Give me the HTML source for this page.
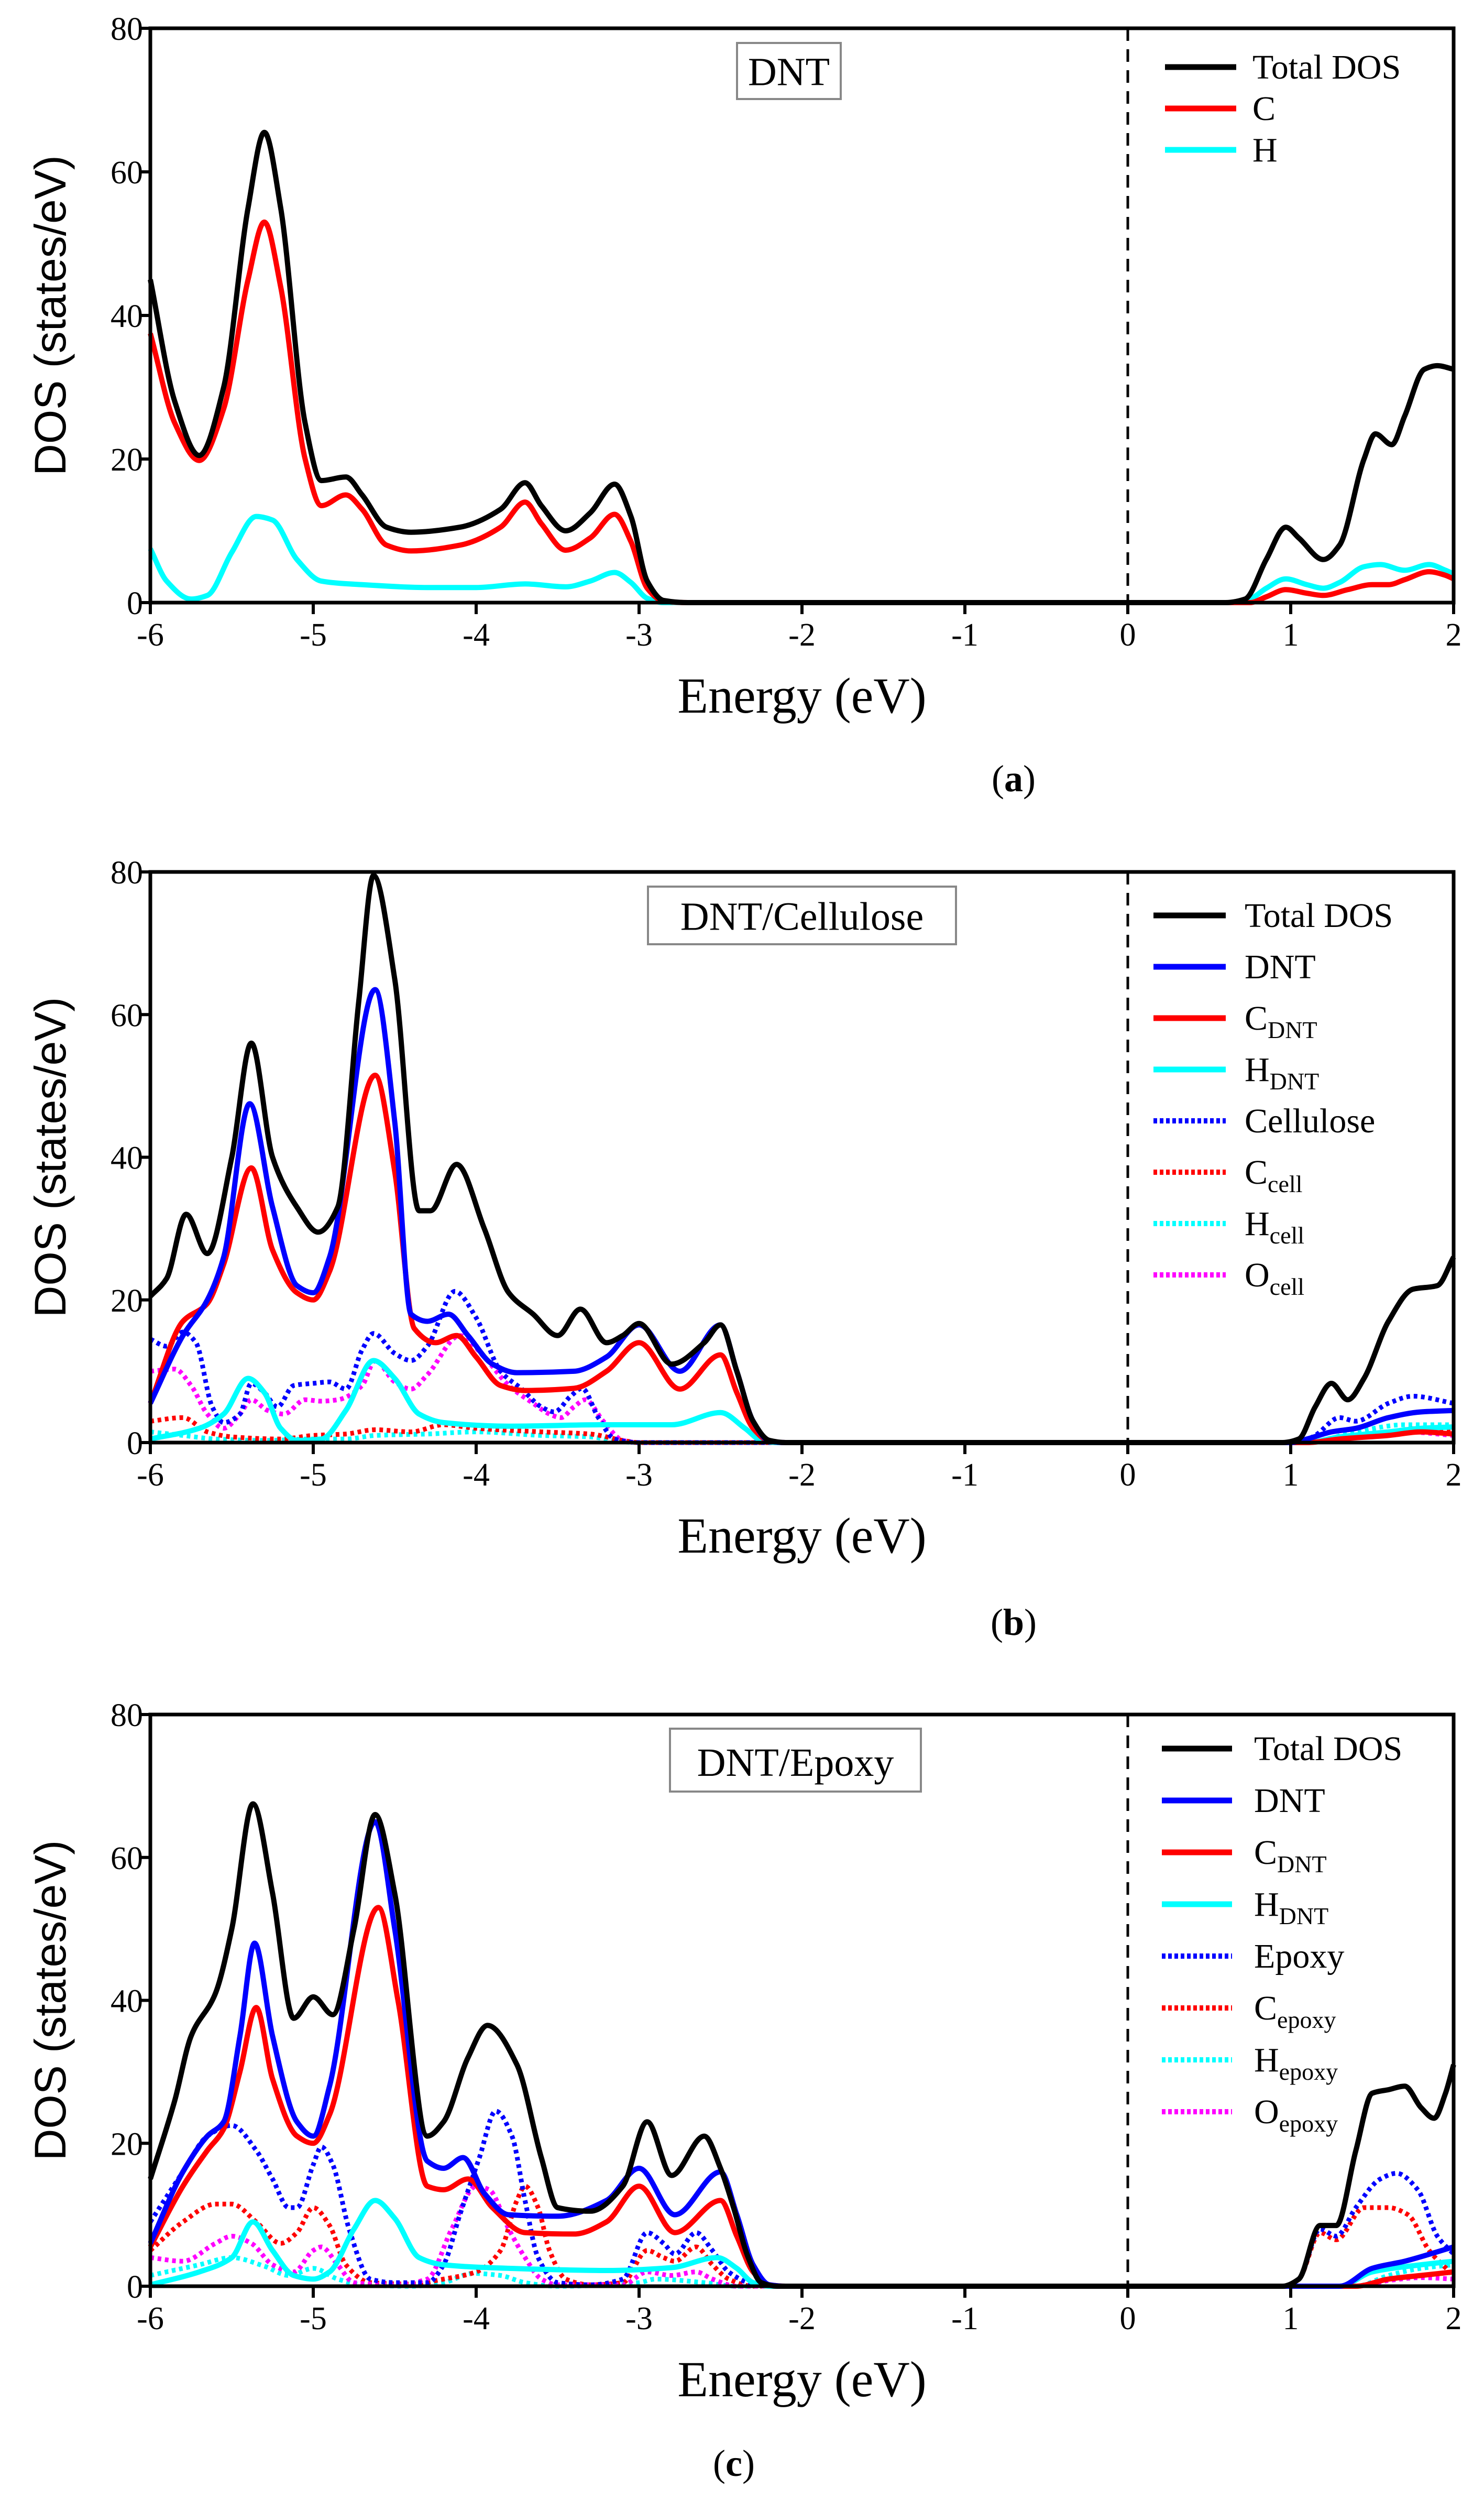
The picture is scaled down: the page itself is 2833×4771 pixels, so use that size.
<!DOCTYPE html>
<html><head><meta charset="utf-8"><title>DOS panels</title>
<style>
html,body{margin:0;padding:0;background:#fff;}
svg{display:block;}
text{font-family:"Liberation Serif",serif;fill:#000;}
</style></head>
<body>
<svg id="fig" width="2833" height="4771" viewBox="0 0 2833 4771" xmlns="http://www.w3.org/2000/svg"></svg>
<script>
// ---------- data ----------
const xTicks = [-6,-5,-4,-3,-2,-1,0,1,2];
const yTicks = [0,20,40,60,80];
// Panel a
const aTotal = [[-6,45],[-5.85,28],[-5.7,20.5],[-5.55,30],[-5.4,55],[-5.3,65.5],[-5.2,55],[-5.05,25],[-4.95,17],[-4.8,17.5],[-4.7,15],[-4.55,10.5],[-4.4,9.8],[-4.1,10.5],[-3.85,13],[-3.7,16.7],[-3.6,13.5],[-3.45,10],[-3.3,12.5],[-3.15,16.5],[-3.05,12],[-2.95,3],[-2.85,0.3],[-2.7,0],[0.6,0],[0.72,0.5],[0.85,6],[0.97,10.5],[1.05,9],[1.2,6],[1.3,8],[1.45,20],[1.52,23.5],[1.62,22],[1.7,26],[1.82,32.5],[1.9,33],[2,32.5]];
const aC = [[-6,37.5],[-5.85,25],[-5.7,19.8],[-5.55,27],[-5.4,45],[-5.3,53],[-5.2,44],[-5.05,20],[-4.95,13.5],[-4.8,15],[-4.7,13],[-4.55,8],[-4.4,7.2],[-4.1,8],[-3.85,10.5],[-3.7,14],[-3.6,11],[-3.45,7.3],[-3.3,9],[-3.15,12.3],[-3.05,8.5],[-2.95,2],[-2.85,0.2],[-2.7,0],[0.75,0],[0.85,0.8],[0.97,1.8],[1.1,1.3],[1.2,1],[1.35,1.8],[1.5,2.5],[1.6,2.5],[1.7,3.2],[1.85,4.3],[1.95,3.8],[2,3.3]];
const aH = [[-6,7.5],[-5.9,3],[-5.75,0.5],[-5.65,1],[-5.5,7],[-5.35,12],[-5.25,11.5],[-5.1,6],[-4.95,3],[-4.7,2.5],[-4.3,2.1],[-4,2.1],[-3.7,2.6],[-3.45,2.2],[-3.3,3],[-3.15,4.2],[-3.05,2.8],[-2.95,0.6],[-2.85,0],[0.65,0],[0.75,0.5],[0.85,2],[0.97,3.3],[1.1,2.5],[1.2,2],[1.3,2.8],[1.45,5],[1.55,5.3],[1.7,4.5],[1.85,5.3],[1.95,4.5],[2,4]];
// Panel b
const bTotal = [[-6,20.5],[-5.9,23],[-5.78,32],[-5.65,26.5],[-5.5,40],[-5.38,56],[-5.25,40],[-5.1,33],[-4.97,29.5],[-4.85,33],[-4.72,62],[-4.63,79.5],[-4.5,65],[-4.35,32.5],[-4.28,32.5],[-4.12,39],[-3.95,30],[-3.8,21],[-3.65,18],[-3.5,15],[-3.36,18.7],[-3.2,14],[-3.1,15],[-3,16.7],[-2.8,11],[-2.6,14],[-2.5,16.5],[-2.4,10],[-2.3,3],[-2.2,0.3],[-2.1,0],[0.95,0],[1.05,0.5],[1.15,5],[1.25,8.3],[1.35,6],[1.45,9],[1.6,17],[1.75,21.5],[1.9,22],[2,26]];
const bDNT = [[-6,5.5],[-5.8,15],[-5.65,20],[-5.55,26],[-5.39,47.5],[-5.25,33],[-5.1,22],[-5.0,21],[-4.9,26],[-4.62,63.5],[-4.5,45],[-4.4,18],[-4.3,17],[-4.17,18],[-4.05,15],[-3.9,11],[-3.75,9.8],[-3.4,10],[-3.2,12],[-3,16.5],[-2.75,10],[-2.5,16.5],[-2.4,10],[-2.3,3],[-2.2,0.2],[-2.1,0],[1,0],[1.1,0.5],[1.25,1.5],[1.4,2],[1.6,3.5],[1.8,4.3],[2,4.5]];
const bCDNT = [[-6,5.5],[-5.8,17],[-5.65,19.5],[-5.55,25],[-5.38,38.5],[-5.25,27],[-5.1,21],[-5.0,20],[-4.9,24],[-4.62,51.5],[-4.5,38],[-4.38,16],[-4.25,14],[-4.12,15],[-4.0,12],[-3.85,8],[-3.7,7.3],[-3.4,7.6],[-3.2,10],[-3,14],[-2.75,7.5],[-2.5,12.3],[-2.4,7],[-2.3,2],[-2.2,0.2],[-2.1,0],[1.1,0],[1.3,0.5],[1.6,1],[1.8,1.5],[2,1.2]];
const bHDNT = [[-6,0.5],[-5.7,2],[-5.55,4],[-5.4,9],[-5.3,7],[-5.2,2],[-5.1,0.3],[-4.95,0.5],[-4.8,4.5],[-4.63,11.5],[-4.5,9],[-4.35,4],[-4.2,2.8],[-3.8,2.3],[-3.2,2.5],[-2.8,2.5],[-2.5,4.2],[-2.35,2],[-2.25,0.3],[-2.15,0],[1.1,0],[1.3,0.8],[1.6,1.5],[1.8,2],[2,2.2]];
const bCell = [[-6,14.5],[-5.9,13.5],[-5.8,15.5],[-5.72,14],[-5.62,5],[-5.55,2.8],[-5.45,4],[-5.38,8.3],[-5.3,7],[-5.22,5],[-5.12,8],[-5.0,8.3],[-4.9,8.5],[-4.8,7.5],[-4.7,13],[-4.63,15.3],[-4.5,12.5],[-4.4,11.5],[-4.3,13.5],[-4.13,21.2],[-4.0,17.5],[-3.85,10],[-3.72,7.5],[-3.6,5],[-3.52,4.3],[-3.42,6.5],[-3.35,7.6],[-3.25,3.5],[-3.15,0.5],[-3.0,0],[1.05,0],[1.15,1],[1.3,3.5],[1.4,3],[1.6,5.5],[1.75,6.5],[2,5.5]];
const bCcell = [[-6,3],[-5.8,3.5],[-5.65,1.5],[-5.5,0.8],[-5.2,0.5],[-5,1],[-4.8,1.2],[-4.62,1.8],[-4.4,1.5],[-4.2,2.5],[-4,2],[-3.6,1.5],[-3.3,1.2],[-3.1,0.3],[-3.0,0],[1.1,0],[1.3,0.8],[1.6,1.5],[1.8,2],[2,1.8]];
const bHcell = [[-6,1.5],[-5.8,1],[-5.6,0.5],[-5.3,0.3],[-5,0.5],[-4.8,0.5],[-4.62,1],[-4.3,1.2],[-4,1.5],[-3.6,1],[-3.3,0.8],[-3.1,0.1],[-3.0,0],[1.1,0],[1.4,1.5],[1.7,2.5],[2,2.5]];
const bOcell = [[-6,10],[-5.85,10.3],[-5.75,8],[-5.65,4],[-5.55,2],[-5.45,4],[-5.38,6],[-5.28,4.5],[-5.18,4],[-5.05,6],[-4.95,5.8],[-4.85,6],[-4.7,8],[-4.62,11.5],[-4.5,8.5],[-4.4,7.5],[-4.3,9.5],[-4.1,15],[-3.95,12],[-3.8,8],[-3.65,5.5],[-3.55,4],[-3.48,3.5],[-3.4,5],[-3.33,6],[-3.22,3],[-3.1,0.3],[-3.0,0],[1.1,0],[1.3,0.5],[1.7,1.5],[2,1]];
// Panel c
const cTotal = [[-6,15],[-5.85,26],[-5.75,35],[-5.6,41],[-5.5,50],[-5.37,67.5],[-5.25,55],[-5.12,37.5],[-5.0,40.5],[-4.88,38],[-4.75,50],[-4.62,66],[-4.5,55],[-4.3,21],[-4.2,23],[-4.05,32],[-3.93,36.5],[-3.75,31],[-3.6,18],[-3.5,11],[-3.3,10.5],[-3.1,14],[-2.95,23],[-2.8,15.5],[-2.6,21],[-2.5,16.5],[-2.42,11],[-2.33,4],[-2.25,0.5],[-2.15,0],[0.95,0],[1.05,1],[1.18,8.5],[1.28,8.5],[1.4,19],[1.5,27],[1.6,27.5],[1.7,28],[1.8,25],[1.88,23.5],[1.95,27],[2,31]];
const cDNT = [[-6,6],[-5.8,16],[-5.65,21],[-5.55,23],[-5.45,35],[-5.36,48],[-5.25,35],[-5.1,23],[-5.0,21],[-4.9,28],[-4.62,65],[-4.5,50],[-4.3,17.5],[-4.2,16.5],[-4.08,18],[-3.95,13],[-3.8,10],[-3.5,9.8],[-3.2,12],[-3,16.5],[-2.78,10],[-2.5,16],[-2.4,10],[-2.3,3],[-2.2,0.2],[-2.1,0],[1.3,0],[1.5,2.5],[1.7,3.5],[2,5.5]];
const cCDNT = [[-6,5.5],[-5.8,14],[-5.65,19],[-5.55,22],[-5.45,30],[-5.35,39],[-5.25,29],[-5.1,21],[-5.0,20],[-4.9,24],[-4.6,53],[-4.48,40],[-4.3,14],[-4.2,13.5],[-4.05,15],[-3.9,11],[-3.7,7.5],[-3.4,7.3],[-3.2,9],[-3,14],[-2.78,7.5],[-2.5,12],[-2.4,7],[-2.3,2],[-2.2,0.2],[-2.1,0],[1.4,0],[1.6,1],[1.8,1.5],[2,2]];
const cHDNT = [[-6,0.2],[-5.7,2],[-5.5,4],[-5.37,9],[-5.25,5],[-5.12,1.5],[-5.0,1],[-4.9,2],[-4.75,8],[-4.62,12],[-4.5,9.5],[-4.35,4],[-4.2,3],[-3.8,2.5],[-3.2,2.2],[-2.8,2.6],[-2.52,4],[-2.4,2.5],[-2.3,0.5],[-2.2,0],[1.3,0],[1.5,2],[1.8,3],[2,3.5]];
const cEpoxy = [[-6,9],[-5.8,16],[-5.65,21],[-5.5,22.5],[-5.35,19],[-5.25,15],[-5.15,11],[-5.1,11],[-5.0,17],[-4.95,19.5],[-4.88,17],[-4.78,8],[-4.65,1],[-4.5,0.5],[-4.3,0.5],[-4.2,3],[-4.1,10],[-3.98,18],[-3.88,24.5],[-3.78,21],[-3.7,12],[-3.62,4],[-3.5,0.5],[-3.3,0.2],[-3.1,1],[-2.95,7.5],[-2.85,6],[-2.78,4.5],[-2.65,7.5],[-2.55,5],[-2.45,2],[-2.3,0.3],[-2.2,0],[0.95,0],[1.05,1],[1.18,8],[1.28,7],[1.4,11],[1.55,15],[1.65,15.8],[1.78,13.5],[1.9,7],[2,4.5]];
const cCepoxy = [[-6,5],[-5.8,9],[-5.6,11.5],[-5.5,11.5],[-5.35,9],[-5.2,6],[-5.1,7.5],[-5.0,11],[-4.9,8.5],[-4.8,3],[-4.65,0.5],[-4.4,0.3],[-4.2,1],[-4.0,2],[-3.85,5],[-3.75,12],[-3.7,14],[-3.62,11],[-3.55,5],[-3.45,1],[-3.3,0.2],[-3.1,0.5],[-2.95,5],[-2.85,4],[-2.78,3.5],[-2.65,5.5],[-2.55,3],[-2.45,1],[-2.3,0],[0.95,0],[1.05,1],[1.18,7.5],[1.28,6.5],[1.45,11],[1.6,11],[1.72,10],[1.85,5],[2,1.5]];
const cHepoxy = [[-6,1.5],[-5.7,3],[-5.5,4],[-5.3,2.8],[-5.15,1.5],[-5.0,2.5],[-4.85,1],[-4.7,0.2],[-4.4,0],[-4.2,0.5],[-4.02,1.8],[-3.85,1.5],[-3.7,0.5],[-3.5,0],[-3.0,0.5],[-2.9,1],[-2.6,0.5],[-2.4,0],[1.4,0],[1.6,1.5],[1.8,2.5],[2,3]];
const cOepoxy = [[-6,4],[-5.8,3.5],[-5.6,6],[-5.5,7],[-5.38,6],[-5.25,3],[-5.12,2],[-5.0,5],[-4.95,5.5],[-4.85,3],[-4.75,0.5],[-4.5,0.2],[-4.3,1],[-4.15,8],[-4.0,14],[-3.92,13.5],[-3.8,8],[-3.7,4],[-3.6,1],[-3.5,0.2],[-3.1,0.2],[-2.95,2],[-2.8,1.5],[-2.65,2],[-2.55,1],[-2.4,0],[1.4,0],[1.6,0.8],[1.8,1.2],[2,1]];

// ---------- drawing ----------
const NS = "http://www.w3.org/2000/svg";
const svg = document.getElementById('fig');
function mk(tag, attrs, parent){
  const e = document.createElementNS(NS, tag);
  for (const k in attrs) e.setAttribute(k, attrs[k]);
  (parent||svg).appendChild(e);
  return e;
}
const L = 287, R = 2775;
// monotone cubic (Fritsch-Carlson) in pixel space: no loops / overshoot
function smoothPath(pts, sx, sy){
  const X = pts.map(p=>sx(p[0])), Y = pts.map(p=>sy(p[1]));
  const n = X.length;
  const dx=[], m=[];
  for (let i=0;i<n-1;i++){ dx[i]=X[i+1]-X[i]; m[i]=(Y[i+1]-Y[i])/dx[i]; }
  const t=[];
  t[0]=m[0]; t[n-1]=m[n-2];
  for (let i=1;i<n-1;i++){
    if (m[i-1]*m[i]<=0) t[i]=0;
    else {
      const w1=2*dx[i]+dx[i-1], w2=dx[i]+2*dx[i-1];
      t[i]=(w1+w2)/(w1/m[i-1]+w2/m[i]);
    }
  }
  let d='M'+X[0].toFixed(1)+','+Y[0].toFixed(1);
  for (let i=0;i<n-1;i++){
    const h=dx[i]/3;
    d+=' C'+(X[i]+h).toFixed(1)+','+(Y[i]+t[i]*h).toFixed(1)+' '+(X[i+1]-h).toFixed(1)+','+(Y[i+1]-t[i+1]*h).toFixed(1)+' '+X[i+1].toFixed(1)+','+Y[i+1].toFixed(1);
  }
  return d;
}
const COL = {black:'#000', blue:'#0000ff', red:'#ff0000', cyan:'#00ffff', magenta:'#ff00ff'};

function panel(id, top, bottom, series, label, legend, caption){
  const g = mk('g', {});
  
  
  const sx = v => L + (v+6)/8*(R-L);
  const sy = v => bottom - v/80*(bottom-top);
  series.forEach(s=>{
    const p = mk('path', {d: smoothPath(s.data, sx, sy), fill:'none', stroke:COL[s.color],
      'stroke-width': s.dot?9:10, 'stroke-linejoin':'round',
      'stroke-dasharray': s.dot?'7 7':'none'}, g);
    
    
  });
  const fl = mk('line', {x1:sx(0), x2:sx(0), y1:top, y2:bottom, stroke:'#000', 'stroke-width':5, 'stroke-dasharray':'24 16'}, g);
  
  
  const fr = mk('path', {d:`M${L},${bottom} L${L},${top} L${R},${top} L${R},${bottom} Z`, fill:'none', stroke:'#000', 'stroke-width':7}, g);
  
  
  xTicks.forEach(t=>{
    const tk = mk('line', {x1:sx(t), x2:sx(t), y1:bottom, y2:bottom+22, stroke:'#000', 'stroke-width':6}, g);
    
    
    const tl = mk('text', {x:sx(t), y:bottom+82, 'font-size':62, 'text-anchor':'middle'}, g);
    tl.textContent = String(t);
    
    
  });
  yTicks.forEach(t=>{
    const tk = mk('line', {x1:L-20, x2:L, y1:sy(t), y2:sy(t), stroke:'#000', 'stroke-width':6}, g);
    
    
    const tl = mk('text', {x:L-14, y:sy(t)+22, 'font-size':62, 'text-anchor':'end'}, g);
    tl.textContent = String(t);
    
    
  });
  const xt = mk('text', {x:(L+R)/2, y:bottom+210, 'font-size':96, 'text-anchor':'middle'}, g);
  xt.textContent = 'Energy (eV)';
  
  
  const yc = (top+bottom)/2;
  const yt = mk('text', {x:0, y:0, 'font-size':84, 'text-anchor':'middle', transform:`translate(125,${yc}) rotate(-90)`, style:'font-family:"Liberation Sans",sans-serif'}, g);
  yt.textContent = 'DOS (states/eV)';
  
  
  const lb = mk('rect', {x:label.x, y:top+label.dy, width:label.w, height:label.h, fill:'#fff', stroke:'#888', 'stroke-width':4}, g);
  
  
  const lt = mk('text', {x:label.x+label.w/2, y:top+label.dy+label.h*0.75, 'font-size':76, 'text-anchor':'middle'}, g);
  lt.textContent = label.text;
  
  
  legend.items.forEach((it,i)=>{
    const y = top + legend.y0 + i*legend.dy;
    const ln = mk('line', {x1:legend.x1, x2:legend.x2, y1:y, y2:y, stroke:COL[it.color], 'stroke-width':it.dot?10:11, 'stroke-dasharray':it.dot?'7 5':'none'}, g);
    
    
    const tx = mk('text', {x:legend.tx, y:y+22, 'font-size':66}, g);
    
    
    tx.appendChild(document.createTextNode(it.main));
    if (it.sub){
      const ts = mk('tspan', {'font-size':46, dy:16}, tx);
      ts.textContent = it.sub;
    }
  });
  const cp = mk('text', {x:caption.x, y:caption.y, 'font-size':72, 'text-anchor':'middle'});
  
  
  cp.appendChild(document.createTextNode('('));
  const cb = mk('tspan', {'font-weight':'bold'}, cp); cb.textContent = id;
  cp.appendChild(document.createTextNode(')'));
}

panel('a', 54, 1150, [
  {name:'h', data:aH, color:'cyan'},
  {name:'c', data:aC, color:'red'},
  {name:'total-dos', data:aTotal, color:'black'}
], {x:1407, dy:28, w:198, h:107, text:'DNT'},
{x1:2224, x2:2360, tx:2391, y0:74, dy:79, items:[
  {main:'Total DOS', color:'black'},{main:'C', color:'red'},{main:'H', color:'cyan'}]},
{x:1935, y:1510});

panel('b', 1664, 2753, [
  {name:'h-cell', data:bHcell, color:'cyan', dot:true},
  {name:'c-cell', data:bCcell, color:'red', dot:true},
  {name:'o-cell', data:bOcell, color:'magenta', dot:true},
  {name:'cellulose', data:bCell, color:'blue', dot:true},
  {name:'h-dnt', data:bHDNT, color:'cyan'},
  {name:'c-dnt', data:bCDNT, color:'red'},
  {name:'dnt', data:bDNT, color:'blue'},
  {name:'total-dos', data:bTotal, color:'black'}
], {x:1237, dy:28, w:588, h:110, text:'DNT/Cellulose'},
{x1:2202, x2:2340, tx:2376, y0:83, dy:98, items:[
  {main:'Total DOS', color:'black'},{main:'DNT', color:'blue'},
  {main:'C', sub:'DNT', color:'red'},{main:'H', sub:'DNT', color:'cyan'},
  {main:'Cellulose', color:'blue', dot:true},{main:'C', sub:'cell', color:'red', dot:true},
  {main:'H', sub:'cell', color:'cyan', dot:true},{main:'O', sub:'cell', color:'magenta', dot:true}]},
{x:1935, y:3120});

panel('c', 3272, 4363, [
  {name:'h-epoxy', data:cHepoxy, color:'cyan', dot:true},
  {name:'c-epoxy', data:cCepoxy, color:'red', dot:true},
  {name:'o-epoxy', data:cOepoxy, color:'magenta', dot:true},
  {name:'epoxy', data:cEpoxy, color:'blue', dot:true},
  {name:'h-dnt', data:cHDNT, color:'cyan'},
  {name:'c-dnt', data:cCDNT, color:'red'},
  {name:'dnt', data:cDNT, color:'blue'},
  {name:'total-dos', data:cTotal, color:'black'}
], {x:1279, dy:27, w:479, h:120, text:'DNT/Epoxy'},
{x1:2218, x2:2352, tx:2394, y0:65, dy:99, items:[
  {main:'Total DOS', color:'black'},{main:'DNT', color:'blue'},
  {main:'C', sub:'DNT', color:'red'},{main:'H', sub:'DNT', color:'cyan'},
  {main:'Epoxy', color:'blue', dot:true},{main:'C', sub:'epoxy', color:'red', dot:true},
  {main:'H', sub:'epoxy', color:'cyan', dot:true},{main:'O', sub:'epoxy', color:'magenta', dot:true}]},
{x:1401, y:4725});
</script>
</body></html>
